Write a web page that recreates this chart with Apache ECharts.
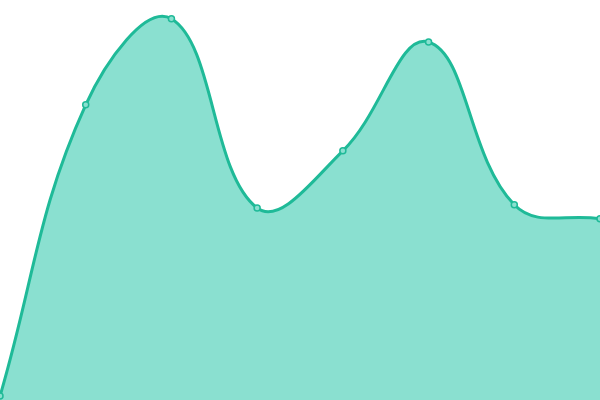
<!DOCTYPE html>
<html><head><meta charset="utf-8">
<style>html,body{margin:0;padding:0;background:#fff}#c{width:600px;height:400px}</style>
<script src="https://cdn.jsdelivr.net/npm/echarts@6/dist/echarts.min.js"></script>
</head><body><div id="c"></div>
<script>
const categories = ['1','2','3','4','5','6','7','8'];
const values = [1, 73.8, 95.3, 48, 62.3, 89.5, 48.8, 45.3];
const TENSION = 0.4;
const LINE = '#1fba98', FILL = '#8ae0d0';

function renderCurve(params, api) {
  if (params.dataIndex !== 0) return null;
  const pts = values.map((v, i) => api.coord([i, v]));
  const base = api.coord([0, 0])[1];
  const n = pts.length;
  const cps = pts.map((cur, i) => {
    const prev = i > 0 ? pts[i - 1] : cur;
    const next = i < n - 1 ? pts[i + 1] : cur;
    const d01 = Math.hypot(cur[0] - prev[0], cur[1] - prev[1]);
    const d12 = Math.hypot(next[0] - cur[0], next[1] - cur[1]);
    let s01 = d01 / (d01 + d12), s12 = d12 / (d01 + d12);
    if (isNaN(s01)) s01 = 0; if (isNaN(s12)) s12 = 0;
    const fa = TENSION * s01, fb = TENSION * s12;
    const clamp = p => [Math.max(params.coordSys.x, Math.min(params.coordSys.x + params.coordSys.width, p[0])),
                        Math.max(params.coordSys.y, Math.min(params.coordSys.y + params.coordSys.height, p[1]))];
    return {
      prev: clamp([cur[0] - fa * (next[0] - prev[0]), cur[1] - fa * (next[1] - prev[1])]),
      next: clamp([cur[0] + fb * (next[0] - prev[0]), cur[1] + fb * (next[1] - prev[1])])
    };
  });
  let d = 'M' + pts[0][0] + ' ' + pts[0][1];
  for (let i = 1; i < n; i++) {
    const a = cps[i - 1].next, b = cps[i].prev, p = pts[i];
    d += ' C' + a[0] + ' ' + a[1] + ' ' + b[0] + ' ' + b[1] + ' ' + p[0] + ' ' + p[1];
  }
  const area = d + ' L' + pts[n - 1][0] + ' ' + base + ' L' + pts[0][0] + ' ' + base + ' Z';
  return {
    type: 'group',
    children: [
      {type: 'path', shape: {pathData: area}, style: {fill: FILL, stroke: null}},
      {type: 'path', shape: {pathData: d}, style: {fill: null, stroke: LINE, lineWidth: 3}}
    ]
  };
}

const chart = echarts.init(document.getElementById('c'));
chart.setOption({
  animation: false,
  grid: {left: 0, right: 0, top: 0, bottom: 0},
  xAxis: {type: 'category', data: categories, boundaryGap: false, show: false},
  yAxis: {type: 'value', min: 0, max: 100, show: false},
  series: [
    {type: 'custom', renderItem: renderCurve, data: values.map((v, i) => [i, v]), clip: false, silent: true},
    {type: 'scatter', data: values.map((v, i) => [i, v]), symbol: 'circle', symbolSize: 6,
     itemStyle: {color: FILL, borderColor: LINE, borderWidth: 1.5, opacity: 1}, z: 5}
  ]
});
</script></body></html>
